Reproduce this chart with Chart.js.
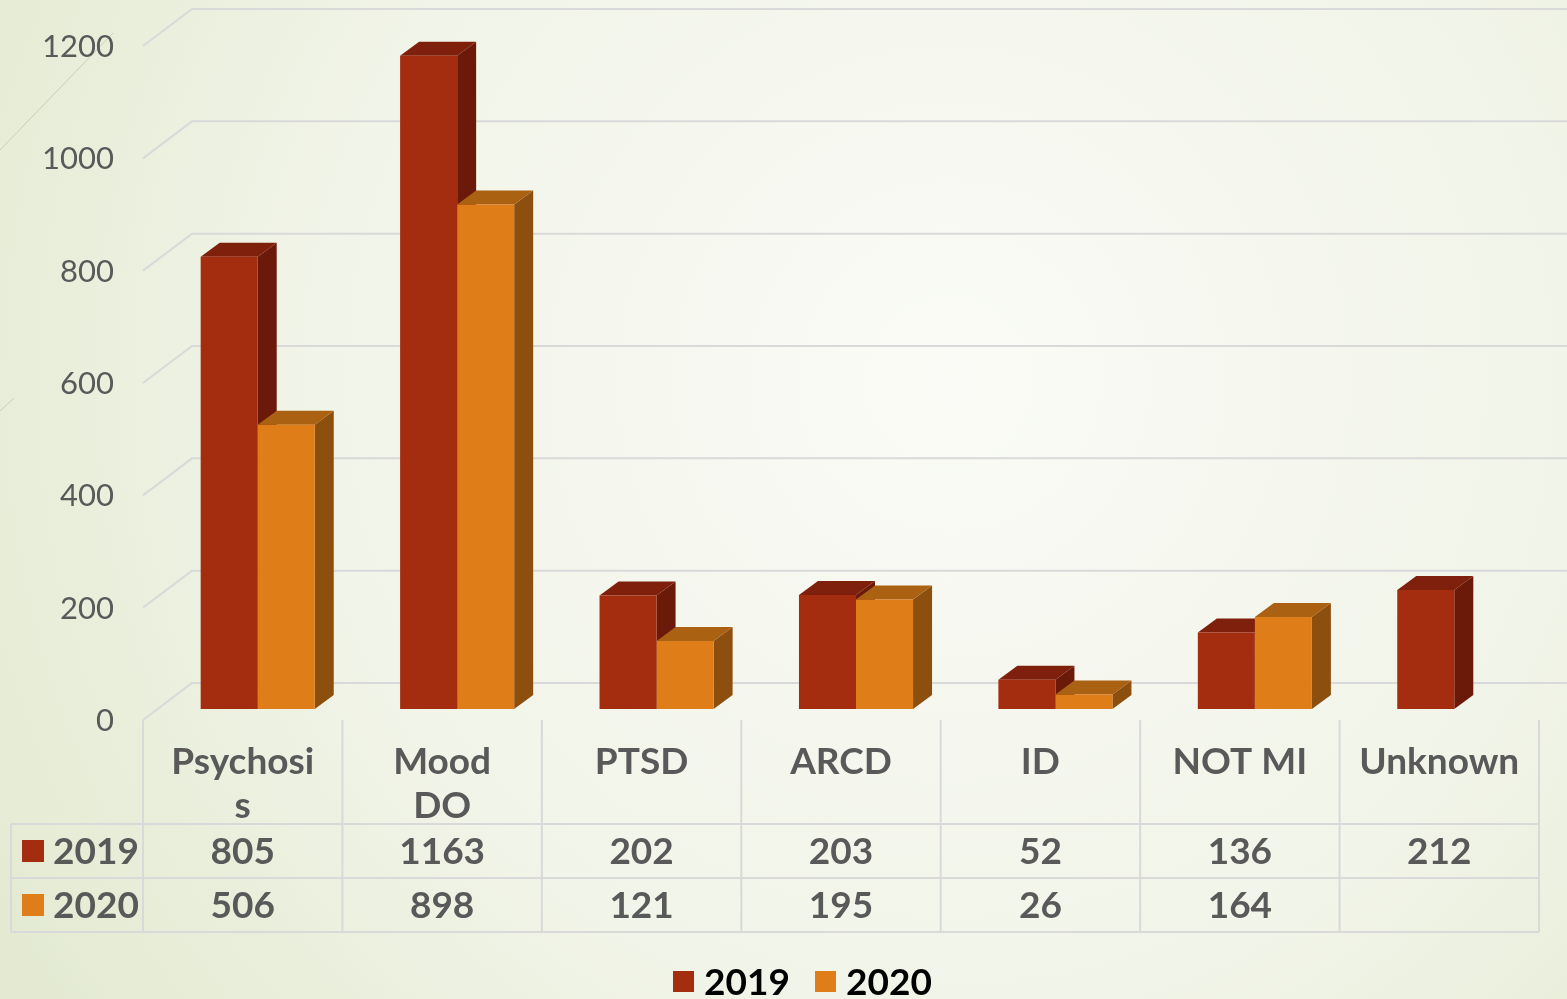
<!DOCTYPE html>
<html>
<head>
<meta charset="utf-8">
<script src="https://cdn.jsdelivr.net/npm/chart.js@4.4.1/dist/chart.umd.min.js"></script>
<style>
  html, body { margin: 0; padding: 0; background: #f3f6ec; }
  #wrap { width: 1567px; height: 999px; position: relative; overflow: hidden; }
  canvas { display: block; }
</style>
</head>
<body>
<div id="wrap"><canvas id="chart" width="1567" height="999"></canvas></div>
<script>
// Diagnoses per year
const categories = ['Psychosis', 'Mood DO', 'PTSD', 'ARCD', 'ID', 'NOT MI', 'Unknown'];
const headerLines = [['Psychosi', 's'], ['Mood', 'DO'], ['PTSD'], ['ARCD'], ['ID'], ['NOT MI'], ['Unknown']];
const seriesNames = ['2019', '2020'];
const values2019 = [805, 1163, 202, 203, 52, 136, 212];
const values2020 = [506, 898, 121, 195, 26, 164, null];
const yTicks = [0, 200, 400, 600, 800, 1000, 1200];

// Face colours: front, side, top
const palette = [
  { front: '#A42D10', side: '#6B1A0A', top: '#7E200C' },
  { front: '#DF7D18', side: '#8C4F0E', top: '#AA6112' }
];

// Perspective offsets (pixels)
const BAR_DEPTH = { dx: 19, dy: -14 };     // bar thickness
const PLANE_SHIFT = { dx: 15, dy: -11 };   // front edge -> bar plane
const WALL_DEPTH = { dx: 49, dy: -37 };    // front edge -> back wall

const GRID = '#d9d9d9';
const TEXT = '#595959';
const FONT = 'Lato, "Open Sans", sans-serif';

const threeD = {
  id: 'threeD',
  beforeDraw(chart) {
    const { ctx, width, height } = chart;
    ctx.save();
    const g = ctx.createRadialGradient(950, 380, 0, 950, 380, 1150);
    g.addColorStop(0, '#fafbf6');
    g.addColorStop(0.55, '#f1f4e8');
    g.addColorStop(1, '#e2e9cf');
    ctx.fillStyle = g;
    ctx.fillRect(0, 0, width, height);

    // slide accent strokes
    ctx.strokeStyle = '#c9cdb6';
    ctx.lineWidth = 1;
    ctx.beginPath();
    ctx.moveTo(0, 150); ctx.lineTo(113, 33);
    ctx.moveTo(0, 411); ctx.lineTo(14, 398);
    ctx.stroke();

    // value gridlines: slanted floor edge + back wall
    const y = chart.scales.y;
    const left = chart.chartArea.left - PLANE_SHIFT.dx;
    ctx.strokeStyle = GRID;
    ctx.lineWidth = 2;
    yTicks.forEach(v => {
      const fy = y.getPixelForValue(v) - PLANE_SHIFT.dy;
      ctx.beginPath();
      ctx.moveTo(left, fy);
      ctx.lineTo(left + WALL_DEPTH.dx, fy + WALL_DEPTH.dy);
      ctx.lineTo(width, fy + WALL_DEPTH.dy);
      ctx.stroke();
    });
    ctx.restore();
  },
  beforeDatasetsDraw(chart) {
    // side and top faces; fronts are drawn by the bar elements
    const { ctx } = chart;
    const metas = chart.data.datasets.map((d, i) => chart.getDatasetMeta(i));
    ctx.save();
    categories.forEach((c, idx) => {
      metas.forEach((meta, di) => {
        const el = meta.data[idx];
        const val = chart.data.datasets[di].data[idx];
        if (!el || val === null || val === undefined) return;
        const { x, y, base, width } = el.getProps(['x', 'y', 'base', 'width'], true);
        const l = x - width / 2, r = x + width / 2;
        const col = palette[di];
        // side
        ctx.fillStyle = col.side;
        ctx.beginPath();
        ctx.moveTo(r, y);
        ctx.lineTo(r + BAR_DEPTH.dx, y + BAR_DEPTH.dy);
        ctx.lineTo(r + BAR_DEPTH.dx, base + BAR_DEPTH.dy);
        ctx.lineTo(r, base);
        ctx.closePath();
        ctx.fill();
        // top
        ctx.fillStyle = col.top;
        ctx.beginPath();
        ctx.moveTo(l, y);
        ctx.lineTo(r, y);
        ctx.lineTo(r + BAR_DEPTH.dx, y + BAR_DEPTH.dy);
        ctx.lineTo(l + BAR_DEPTH.dx, y + BAR_DEPTH.dy);
        ctx.closePath();
        ctx.fill();
      });
    });
    ctx.restore();
  },
  afterDraw(chart) {
    const { ctx } = chart;
    const xs = chart.scales.x, ys = chart.scales.y;
    const colW = xs.getPixelForValue(1) - xs.getPixelForValue(0);
    const frontLeft = chart.chartArea.left - PLANE_SHIFT.dx;
    const tableTop = ys.getPixelForValue(0) - PLANE_SHIFT.dy;
    const row1 = 824, row2 = 878, row3 = 932, tableLeft = 11;
    const tableRight = frontLeft + colW * categories.length;
    ctx.save();

    // value axis labels
    ctx.fillStyle = TEXT;
    ctx.font = '400 31px ' + FONT;
    ctx.textAlign = 'right';
    ctx.textBaseline = 'middle';
    yTicks.forEach(v => {
      ctx.fillText(String(v), 114, ys.getPixelForValue(v) - PLANE_SHIFT.dy + 1);
    });

    // data table grid
    ctx.strokeStyle = GRID;
    ctx.lineWidth = 2;
    ctx.beginPath();
    for (let i = 0; i <= categories.length; i++) {
      const gx = frontLeft + i * colW;
      ctx.moveTo(gx, tableTop);
      ctx.lineTo(gx, row3);
    }
    [row1, row2, row3].forEach(ry => {
      ctx.moveTo(tableLeft, ry);
      ctx.lineTo(tableRight, ry);
    });
    ctx.moveTo(tableLeft, row1);
    ctx.lineTo(tableLeft, row3);
    ctx.stroke();

    // category headers
    ctx.font = '700 37px ' + FONT;
    ctx.textAlign = 'center';
    ctx.textBaseline = 'alphabetic';
    headerLines.forEach((lines, i) => {
      const cx = xs.getPixelForValue(i) - PLANE_SHIFT.dx;
      lines.forEach((t, k) => ctx.fillText(t, cx, 774 + k * 44));
    });

    // values
    const rows = [values2019, values2020];
    const rowMid = [(row1 + row2) / 2, (row2 + row3) / 2];
    ctx.textBaseline = 'middle';
    rows.forEach((vals, r) => {
      vals.forEach((v, i) => {
        if (v === null || v === undefined) return;
        const cx = xs.getPixelForValue(i) - PLANE_SHIFT.dx;
        ctx.fillText(String(v), cx, rowMid[r] + 1);
      });
      // row key
      ctx.fillStyle = palette[r].front;
      ctx.fillRect(22, rowMid[r] - 11, 22, 22);
      ctx.fillStyle = TEXT;
      ctx.textAlign = 'left';
      ctx.fillText(seriesNames[r], 53, rowMid[r] + 1);
      ctx.textAlign = 'center';
    });

    // legend
    ctx.font = '700 37px ' + FONT;
    ctx.textAlign = 'left';
    ctx.textBaseline = 'alphabetic';
    const legendX = [673, 815];
    seriesNames.forEach((s, i) => {
      ctx.fillStyle = palette[i].front;
      ctx.fillRect(legendX[i], 971, 21, 21);
      ctx.fillStyle = '#000000';
      ctx.fillText(s, legendX[i] + 31, 995);
    });
    ctx.restore();
  }
};

new Chart(document.getElementById('chart'), {
  type: 'bar',
  data: {
    labels: categories,
    datasets: [
      { label: seriesNames[0], data: values2019, backgroundColor: palette[0].front, borderWidth: 0 },
      { label: seriesNames[1], data: values2020, backgroundColor: palette[1].front, borderWidth: 0 }
    ]
  },
  options: {
    responsive: false,
    animation: false,
    devicePixelRatio: 1,
    layout: { padding: { left: 158, right: 13, top: 35, bottom: 290 } },
    datasets: { bar: { categoryPercentage: 0.572, barPercentage: 1.0 } },
    scales: {
      x: { display: false },
      y: { display: false, min: 0, max: 1200 }
    },
    plugins: { legend: { display: false }, tooltip: { enabled: false } }
  },
  plugins: [threeD]
});
</script>
</body>
</html>
